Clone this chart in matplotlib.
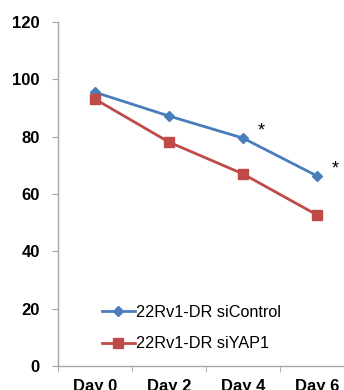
import matplotlib.pyplot as plt
import numpy as np

days = ['Day 0', 'Day 2', 'Day 4', 'Day 6']
si_control = [95.5, 87.2, 79.5, 66.3]
si_yap1 = [93.1, 78.1, 67.0, 52.7]
stars = ['', '', '*', '*']

blue = '#4a7ebb'
red = '#be4b48'
grey = '#a6a6a6'

plt.rcParams['font.family'] = ['Liberation Sans', 'DejaVu Sans']

fig = plt.figure(figsize=(3.44, 3.9), dpi=100)
ax = fig.add_axes([58/344, 1-366/390, 296/344, 344/390])

x = np.arange(len(days))
ax.plot(x, si_control, color=blue, lw=2, marker='D', ms=5, label='22Rv1-DR siControl')
ax.plot(x, si_yap1, color=red, lw=2, marker='s', ms=6.5, label='22Rv1-DR siYAP1')

for xi, yi, s in zip(x, si_control, stars):
    if s:
        ax.text(xi + 0.24, yi + 2.5, s, fontsize=13, ha='center', va='center')

ax.set_xlim(-0.5, 3.5)
ax.set_ylim(0, 120)
ax.set_yticks(range(0, 121, 20))
ax.set_xticks(x)
ax.set_xticklabels(days)
ax.set_xticks(np.arange(-0.5, 3.6, 1), minor=True)

for sp in ['top', 'right']:
    ax.spines[sp].set_visible(False)
for sp in ['left', 'bottom']:
    ax.spines[sp].set_color(grey)
    ax.spines[sp].set_linewidth(1)

ax.tick_params(axis='x', which='major', length=0, pad=9)
ax.tick_params(axis='x', which='minor', length=4, color=grey, direction='out')
ax.tick_params(axis='y', length=4, color=grey, direction='out', pad=9)
for lab in ax.get_xticklabels() + ax.get_yticklabels():
    lab.set_fontweight('bold')
    lab.set_fontsize(12)

ax.legend(loc='lower left', bbox_to_anchor=(0.1, 0.0), frameon=False,
          fontsize=11.7, handlelength=2.0, handletextpad=0.1, labelspacing=1.0)

fig.savefig('out.png', dpi=100)
